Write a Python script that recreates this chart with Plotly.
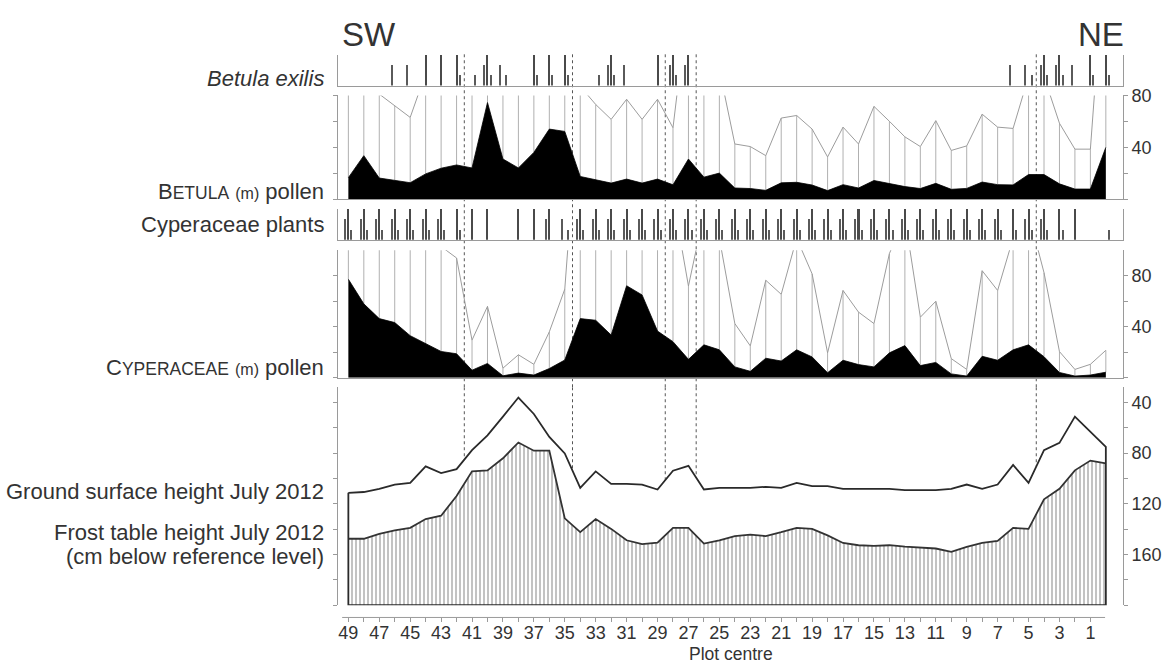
import numpy as np
import plotly.graph_objects as go

# ---------------- data ----------------
plot_centres = [49, 48, 47, 46, 45, 44, 43, 42, 41, 40, 39, 38, 37, 36, 35, 34, 33, 32, 31, 30,
                29, 28, 27, 26, 25, 24, 23, 22, 21, 20, 19, 18, 17, 16, 15, 14, 13, 12, 11, 10,
                9, 8, 7, 6, 5, 4, 3, 2, 1, 0]
tick_values = [49, 47, 45, 43, 41, 39, 37, 35, 33, 31, 29, 27, 25, 23, 21, 19, 17, 15, 13, 11, 9, 7, 5, 3, 1]
tick_labels = [str(v) for v in tick_values]

# Betula exilis plants: plot centres where each class is present
betula_exilis_medium = [46, 45, 40, 39, 32, 31, 28, 27, 6, 5, 4, 3, 2]
betula_exilis_tall = [44, 43, 42, 40, 37, 36, 35, 32, 29, 28, 27, 4, 3, 1, 0]
betula_exilis_short = [42, 41, 40, 39, 37, 36, 35, 33, 32, 28, 5, 4, 3, 1, 0]

# Cyperaceae plants
cyperaceae_medium = [49, 48, 47, 46, 45, 44, 43, 36, 35, 34, 33, 32, 31, 30, 29, 28, 27, 26, 25,
                     24, 23, 22, 21, 20, 19, 18, 17, 16, 15, 14, 13, 12, 11, 10, 9, 8, 7, 5, 4]
cyperaceae_tall = [49, 48, 47, 46, 45, 44, 43, 42, 41, 40, 38, 37, 36, 34, 33, 32, 31, 30, 29, 28,
                   27, 26, 25, 24, 23, 22, 21, 20, 19, 18, 17, 16, 15, 14, 13, 12, 11, 10, 9, 8,
                   7, 6, 5, 4, 3, 2]
cyperaceae_short = [49, 48, 47, 46, 45, 44, 43, 42, 35, 34, 33, 32, 31, 30, 29, 28, 27, 26, 25,
                    24, 23, 22, 21, 20, 19, 18, 17, 16, 15, 14, 13, 12, 11, 10, 9, 8, 7, 6, 5,
                    4, 3, 0]
class_value = {"medium": 2, "tall": 3, "short": 1}

betula_pollen = [16.5, 33.5, 16.2, 14.4, 12.6, 19.4, 23.8, 26.3, 24.0, 74.5,
                 30.9, 24.0, 36.0, 54.0, 52.2, 17.4, 14.6, 12.3, 15.4, 12.3,
                 15.4, 11.0, 30.9, 16.9, 20.0, 8.5, 8.1, 6.7, 12.5, 12.9,
                 10.8, 6.5, 11.1, 8.5, 14.3, 12.0, 9.6, 8.1, 12.1, 7.5,
                 8.2, 13.1, 11.1, 10.9, 18.9, 18.9, 11.7, 7.7, 7.7, 39.9]
cyperaceae_pollen = [77.3, 58.0, 46.4, 43.3, 33.0, 26.5, 20.6, 18.8, 5.9, 11.2,
                     1.5, 3.6, 2.1, 7.2, 13.9, 46.4, 45.1, 33.5, 72.2, 65.0,
                     36.6, 28.3, 14.4, 25.8, 21.9, 8.5, 5.0, 15.3, 13.1, 21.9,
                     16.3, 3.9, 13.7, 10.3, 8.5, 19.5, 25.2, 9.5, 12.0, 3.0,
                     1.3, 16.8, 13.7, 21.9, 25.8, 16.5, 4.1, 1.3, 2.1, 4.3]
ground_surface = [111.3, 110.7, 108.2, 104.8, 103.5, 90.5, 95.7, 92.6, 77.6, 66.0,
                  51.2, 36.1, 49.1, 67.2, 80.2, 107.4, 94.4, 104.3, 104.3, 104.8,
                  108.7, 93.9, 90.0, 108.7, 107.4, 107.4, 107.4, 106.6, 107.4, 103.5,
                  106.1, 106.1, 108.2, 108.2, 108.2, 108.2, 109.2, 109.2, 109.2, 108.2,
                  104.8, 108.2, 104.8, 89.3, 103.5, 77.6, 71.9, 51.2, 63.3, 75.0]
frost_table = [147.6, 147.6, 143.7, 141.0, 139.0, 132.0, 129.4, 113.8, 94.4, 93.6,
               84.1, 71.6, 78.1, 78.1, 131.5, 142.4, 132.0, 139.8, 148.8, 151.9,
               150.7, 139.0, 139.0, 151.4, 148.8, 145.5, 144.4, 145.5, 142.4, 139.0,
               139.8, 144.9, 150.9, 152.7, 153.2, 152.7, 153.8, 154.6, 155.3, 157.9,
               154.0, 150.9, 149.3, 139.0, 139.8, 116.5, 108.2, 93.6, 85.9, 88.0]
boundaries = [41.5, 34.5, 28.5, 26.5, 4.5]
EXAGGERATION = 5

# ---------------- layout helpers ----------------
W, H = 1169, 667
FONT = "Liberation Sans, Arial, Helvetica, sans-serif"
TXT = "#333333"
AX = "#9a9a9a"


def py(p):
    return 1 - p / H


X_DOMAIN = [338 / W, 1123 / W]
X_RANGE = [49.67, -1.11]
Y5_RANGE = [200, 28]

fig = go.Figure()

# ---------- plant presence panels (bars) ----------
bar_w = 0.13
shift = 0.2


def add_presence(xs, cls, off, xa, ya, color):
    fig.add_trace(go.Bar(x=xs, y=[class_value[cls]] * len(xs), width=bar_w,
                         offset=off - bar_w / 2, marker=dict(color=color, line=dict(width=0)),
                         xaxis=xa, yaxis=ya, hoverinfo="skip"))


add_presence(betula_exilis_medium, "medium", shift, "x", "y", "#5a5a5a")
add_presence(betula_exilis_tall, "tall", 0, "x", "y", "#4a4a4a")
add_presence(betula_exilis_short, "short", -shift, "x", "y", "#5a5a5a")
add_presence(cyperaceae_medium, "medium", shift, "x3", "y3", "#5a5a5a")
add_presence(cyperaceae_tall, "tall", 0, "x3", "y3", "#4a4a4a")
add_presence(cyperaceae_short, "short", -shift, "x3", "y3", "#5a5a5a")


# ---------- pollen panels ----------
def add_pollen(vals, xa, ya):
    vx, vy = [], []
    for c, v in zip(plot_centres, vals):
        vx += [c, c, None]
        vy += [v, v * EXAGGERATION, None]
    fig.add_trace(go.Scatter(x=vx, y=vy, mode="lines", line=dict(color="#b0b0b0", width=1),
                             xaxis=xa, yaxis=ya, hoverinfo="skip"))
    fig.add_trace(go.Scatter(x=plot_centres, y=[v * EXAGGERATION for v in vals], mode="lines",
                             line=dict(color="#9c9c9c", width=1), xaxis=xa, yaxis=ya,
                             hoverinfo="skip"))
    fig.add_trace(go.Scatter(x=plot_centres, y=vals, mode="lines", fill="tozeroy",
                             fillcolor="black", line=dict(color="black", width=0.8),
                             xaxis=xa, yaxis=ya, hoverinfo="skip"))


add_pollen(betula_pollen, "x2", "y2")
add_pollen(cyperaceae_pollen, "x4", "y4")

# ---------- ground / frost panel ----------
bottom = Y5_RANGE[0]
fig.add_trace(go.Scatter(x=plot_centres + [plot_centres[-1], plot_centres[0]],
                         y=frost_table + [bottom, bottom], mode="lines", fill="toself",
                         fillcolor="white",
                         fillpattern=dict(shape="|", size=4, solidity=0.45, fgcolor="#7a7a7a",
                                          bgcolor="white"),
                         line=dict(width=0), xaxis="x5", yaxis="y5", hoverinfo="skip"))
fig.add_trace(go.Scatter(x=plot_centres, y=frost_table, mode="lines",
                         line=dict(color="#333333", width=1.8), xaxis="x5", yaxis="y5",
                         hoverinfo="skip"))
fig.add_trace(go.Scatter(x=plot_centres + [plot_centres[-1], plot_centres[0], plot_centres[0]],
                         y=ground_surface + [bottom, bottom, ground_surface[0]], mode="lines",
                         line=dict(color="#2a2a2a", width=1.8), cliponaxis=False,
                         xaxis="x5", yaxis="y5", hoverinfo="skip"))

# ---------- axes ----------
panels = {  # name: (top px, bottom px)
    "1": (45.7, 76.7),
    "2": (86.7, 191.9),
    "3": (201.7, 233.3),
    "4": (244.0, 373.3),
    "5": (383.0, 604.2),
}
layout = {}
for k, (t, b) in panels.items():
    xn = "xaxis" if k == "1" else "xaxis" + k
    yn = "yaxis" if k == "1" else "yaxis" + k
    ya = "y" if k == "1" else "y" + k
    xa = "x" if k == "1" else "x" + k
    layout[xn] = dict(domain=X_DOMAIN, range=X_RANGE, anchor=ya, showgrid=False, zeroline=False,
                      showline=(k != "5"), linecolor=AX, linewidth=1, ticks="",
                      showticklabels=False, fixedrange=True)
    layout[yn] = dict(domain=[py(b), py(t)], anchor=xa, showgrid=False, zeroline=False,
                      showline=True, linecolor=AX, linewidth=1, fixedrange=True)

for k in ("1", "3"):
    yn = "yaxis" if k == "1" else "yaxis" + k
    layout[yn].update(range=[0, 3], mirror=True, ticks="", showticklabels=False)

tick_common = dict(side="right", mirror="ticks", ticks="outside", ticklen=4, tickcolor=AX,
                   tickfont=dict(size=18, color=TXT, family=FONT))
layout["yaxis2"].update(range=[0, 80], tickvals=[0, 20, 40, 60, 80],
                        ticktext=["", "", "40", "", "80"], **tick_common)
layout["yaxis4"].update(range=[0, 100], tickvals=[0, 20, 40, 60, 80],
                        ticktext=["", "", "40", "", "80"], **tick_common)
layout["yaxis5"].update(range=Y5_RANGE, tickvals=[40, 60, 80, 100, 120, 140, 160, 180, 200],
                        ticktext=["40", "", "80", "", "120", "", "160", "", ""], **tick_common)

all_ticks = list(range(49, 0, -1))
layout["xaxis5"].update(anchor="free", position=py(616.7), showline=False, ticks="outside",
                        ticklen=4, tickcolor=AX, tickvals=all_ticks,
                        ticktext=[str(v) if v in tick_values else "" for v in all_ticks],
                        ticklabelstandoff=-5,
                        showticklabels=True, tickfont=dict(size=18, color=TXT, family=FONT))

# ---------- shapes ----------
shapes = []
asc_x = plot_centres[::-1]
asc_g = ground_surface[::-1]
for bnd in boundaries:
    shapes.append(dict(type="line", xref="x5", yref="paper", x0=bnd, x1=bnd,
                       y0=py(panels["5"][0]), y1=py(45.0), layer="below",
                       line=dict(color="#555555", width=1, dash="dot")))
    g = float(np.interp(bnd, asc_x, asc_g))
    shapes.append(dict(type="line", xref="x5", yref="y5", x0=bnd, x1=bnd,
                       y0=Y5_RANGE[1], y1=g, layer="below",
                       line=dict(color="#555555", width=1, dash="dot")))
# x axis line under the bottom panel
shapes.append(dict(type="line", xref="x5", yref="paper", x0=49.4, x1=0.05,
                   y0=py(616.7), y1=py(616.7), line=dict(color=AX, width=1)))

# ---------- annotations ----------
lx = 326 / W
ann = [
    dict(text="<i>Betula exilis</i>", y=py(70)),
    dict(text="B<span style='font-size:17.5px'>ETULA</span> <span style='font-size:16px'>(m)</span> pollen", y=py(184)),
    dict(text="Cyperaceae plants", y=py(218)),
    dict(text="C<span style='font-size:17.5px'>YPERACEAE</span> <span style='font-size:16px'>(m)</span> pollen", y=py(363)),
    dict(text="Ground surface height July 2012", y=py(489)),
    dict(text="Frost table height July 2012", y=py(530)),
    dict(text="(cm below reference level)", y=py(555)),
]
annotations = []
for a in ann:
    annotations.append(dict(text=a["text"], x=lx, y=a["y"], xref="paper", yref="paper",
                            xanchor="right", yanchor="middle", showarrow=False,
                            font=dict(size=22, color=TXT, family=FONT)))
annotations.append(dict(text="SW", x=340 / W, y=py(25), xref="paper", yref="paper",
                        xanchor="left", yanchor="middle", showarrow=False,
                        font=dict(size=33, color=TXT, family=FONT)))
annotations.append(dict(text="NE", x=1126 / W, y=py(25), xref="paper", yref="paper",
                        xanchor="right", yanchor="middle", showarrow=False,
                        font=dict(size=33, color=TXT, family=FONT)))
annotations.append(dict(text="Plot centre", x=731 / W, y=py(654), xref="paper", yref="paper",
                        xanchor="center", yanchor="middle", showarrow=False,
                        font=dict(size=17.5, color=TXT, family=FONT)))

fig.update_layout(width=W, height=H, margin=dict(l=0, r=0, t=0, b=0),
                  paper_bgcolor="white", plot_bgcolor="rgba(0,0,0,0)", showlegend=False,
                  barmode="overlay", bargap=0, font=dict(family=FONT, color=TXT),
                  shapes=shapes, annotations=annotations, **layout)

fig.write_html("out.html")
